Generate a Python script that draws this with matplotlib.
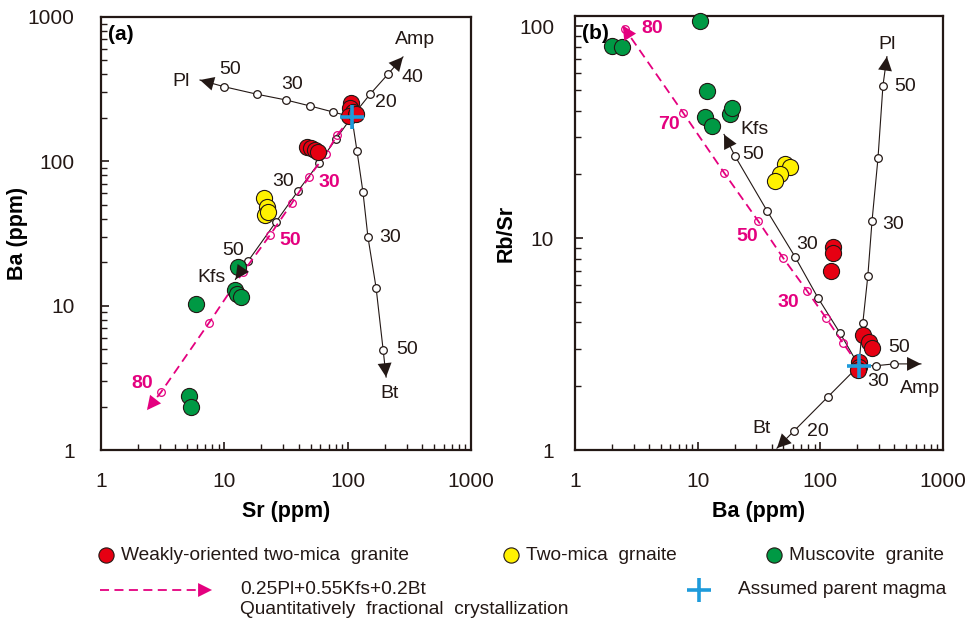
import matplotlib
matplotlib.use("Agg")
import matplotlib.pyplot as plt

plt.rcParams["font.family"] = ["Liberation Sans", "DejaVu Sans"]

# ---- datos ----
# (a) Sr vs Ba
sr_red = [106.6, 104.5, 110.6, 102.6, 117, 46.9, 50.5, 54.4, 57.5]
ba_red = [254, 234, 220, 206, 213, 126, 124, 120, 116]
sr_yellow = [21.0, 22.2, 21.4, 22.6]
ba_yellow = [55.7, 48.3, 42.5, 44.6]
sr_green = [12.9, 12.2, 12.7, 13.6, 5.9, 5.17, 5.37]
ba_green = [18.5, 12.8, 12.0, 11.5, 10.3, 2.37, 1.99]
parent_a = (108, 203)

vec_a = {
    "Pl": ([75.7, 49.5, 31.7, 18.3, 9.94], [220, 242, 266, 292, 329], (6.35, 366)),
    "Kfs": ([80.5, 58.6, 39.6, 26.2, 15.6], [143, 97.5, 62.4, 38, 20.4], (12.3, 15.2)),
    "Bt": ([119, 133, 146, 170, 194], [118, 61.4, 29.9, 13.3, 4.93], (205, 3.2)),
    "Amp": ([152, 213], [292, 403], (281, 529)),
}
fc_a_sr = [82, 66.8, 48.6, 35.4, 23.5, 14.2, 7.5, 3.07]
fc_a_ba = [152, 112.5, 78, 51.5, 30.9, 17.1, 7.59, 2.52]
fc_a_tip = (2.36, 1.89)

# (b) Ba vs Rb/Sr
ba_red_b = [126.7, 126.7, 122, 222, 249, 263, 206, 206, 202]
rbsr_red = [9.12, 8.54, 7.02, 3.5, 3.24, 3.04, 2.61, 2.47, 2.39]
ba_yellow_b = [51.5, 56.5, 46.9, 42.7]
rbsr_yellow = [22.3, 21.8, 20.0, 18.7]
ba_green_b = [10.4, 2.0, 2.42, 11.9, 11.5, 13.1, 18.3, 19.0]
rbsr_green = [105.6, 80.4, 79.6, 49.3, 37.5, 34.0, 38.4, 41.4]
parent_b = (206, 2.5)

vec_b = {
    "Pl": ([222, 244, 264, 295, 324], [3.98, 6.65, 12.1, 23.8, 52.6], (349, 72)),
    "Kfs": ([144.5, 95.6, 62.1, 36.7, 20.1], [3.57, 5.23, 8.18, 13.5, 24.5], (16.4, 30.9)),
    "Amp": ([284, 398], [2.5, 2.55], (661, 2.55)),
    "Bt": ([115, 61], [1.78, 1.23], (44.3, 1.02)),
}
fc_b_ba = [153, 111, 77.8, 49.6, 31, 16.4, 7.59, 2.56]
fc_b_rbsr = [3.2, 4.21, 5.65, 8.09, 12.1, 20.4, 39.2, 97]
fc_b_tip = (2.45, 101)

# etiquetas de los vectores: (texto, x, y)
labels_a = [("Pl", 4.45, 355), ("50", 11.1, 430), ("30", 35.4, 338),
            ("Amp", 352, 694), ("40", 333, 378), ("20", 205, 254),
            ("30", 29.9, 72), ("50", 11.8, 24.3), ("Kfs", 7.94, 15.6),
            ("30", 221, 29.9), ("50", 303, 5.0), ("Bt", 217, 2.48)]
labels_fc_a = [("30", 70.6, 70.8), ("50", 34.1, 28.1), ("80", 2.15, 2.91)]
labels_b = [("Pl", 349, 82.2), ("50", 489, 52), ("30", 391, 11.6),
            ("Kfs", 29.3, 32.6), ("50", 28.2, 24.8), ("30", 77.8, 9.31),
            ("50", 437, 3.04), ("30", 295, 2.10), ("Amp", 648, 1.96),
            ("20", 95.6, 1.22), ("Bt", 33.4, 1.26)]
labels_fc_b = [("80", 4.24, 97.9), ("70", 5.84, 34.4), ("50", 25.2, 10.2),
               ("30", 54.4, 4.95)]

RED = "#E60012"
YELLOW = "#FFF100"
GREEN = "#009944"
PINK = "#E4007F"
BLUE = "#1E9BDB"
INK = "#231815"
HEAD = "-|>,head_length=0.5,head_width=0.25"


def setup_axes(ax, ylim, xlabel, ylabel, ylab_x, ypad):
    ax.set_xscale("log")
    ax.set_yscale("log")
    ax.set_xlim(1, 1000)
    ax.set_ylim(*ylim)
    ax.set_xticks([1, 10, 100, 1000])
    ax.set_xticklabels(["1", "10", "100", "1000"])
    yt = [t for t in [1, 10, 100, 1000] if t <= ylim[1]]
    ax.set_yticks(yt)
    ax.set_yticklabels([str(t) for t in yt])
    ax.tick_params(which="both", direction="in", top=False, right=False,
                   labelsize=15, colors=INK)
    ax.tick_params(axis="x", which="major", length=6, width=1.2, pad=16)
    ax.tick_params(axis="y", which="major", length=6, width=1.2, pad=ypad)
    ax.tick_params(which="minor", length=4, width=1)
    for s in ax.spines.values():
        s.set_linewidth(1.6)
        s.set_color(INK)
    ax.set_xlabel(xlabel, fontsize=15.5, fontweight="bold")
    ax.set_ylabel(ylabel, fontsize=15.5, fontweight="bold")
    ax.xaxis.set_label_coords(0.5, -0.118)
    ax.yaxis.set_label_coords(ylab_x, 0.5)


def draw_vector(ax, parent, xs, ys, tip, color=INK, dashed=False):
    lx = [parent[0]] + xs + [tip[0]]
    ly = [parent[1]] + ys + [tip[1]]
    ls = (0, (5, 3)) if dashed else "-"
    lw = 1.3 if dashed else 0.8
    ax.plot(lx, ly, color=color, lw=lw, ls=ls, zorder=3)
    ax.plot(xs, ys, "o", ms=5.5, mec=color, mew=0.9,
            mfc="none" if dashed else "white", zorder=3)
    ax.annotate("", xy=tip, xytext=(xs[-1], ys[-1]),
                arrowprops=dict(arrowstyle=HEAD, color=color, lw=0.01,
                                mutation_scale=20, shrinkA=0, shrinkB=0),
                zorder=5)


def draw_points(ax, x, y, color):
    ax.scatter(x, y, s=135, c=color, edgecolors=INK, linewidths=0.8,
               zorder=4, clip_on=False)


fig = plt.figure(figsize=(9.71, 6.24), dpi=100)
ax1 = fig.add_axes([101 / 971, 174 / 624, 370 / 971, 433 / 624])
ax2 = fig.add_axes([575 / 971, 174 / 624, 368 / 971, 434 / 624])

# ---- panel (a) ----
setup_axes(ax1, (1, 1000), "Sr (ppm)", "Ba (ppm)", -0.197, 19)
for name, (xs, ys, tip) in vec_a.items():
    draw_vector(ax1, parent_a, xs, ys, tip)
draw_vector(ax1, parent_a, fc_a_sr, fc_a_ba, fc_a_tip, color=PINK, dashed=True)
draw_points(ax1, sr_green, ba_green, GREEN)
draw_points(ax1, sr_yellow, ba_yellow, YELLOW)
draw_points(ax1, sr_red, ba_red, RED)
ax1.plot(*parent_a, "+", ms=17, mew=2.6, color=BLUE, zorder=6)
for t, x, y in labels_a:
    ax1.text(x, y, t, fontsize=14, color=INK, ha="center", va="center", zorder=6)
for t, x, y in labels_fc_a:
    ax1.text(x, y, t, fontsize=14, color=PINK, fontweight="bold",
             ha="center", va="center", zorder=6)
ax1.text(0.02, 0.96, "(a)", transform=ax1.transAxes, fontsize=15,
         fontweight="bold", va="center", ha="left")

# ---- panel (b) ----
setup_axes(ax2, (1, 112), "Ba (ppm)", "Rb/Sr", -0.158, 15)
for name, (xs, ys, tip) in vec_b.items():
    draw_vector(ax2, parent_b, xs, ys, tip)
draw_vector(ax2, parent_b, fc_b_ba, fc_b_rbsr, fc_b_tip, color=PINK, dashed=True)
draw_points(ax2, ba_green_b, rbsr_green, GREEN)
draw_points(ax2, ba_yellow_b, rbsr_yellow, YELLOW)
draw_points(ax2, ba_red_b, rbsr_red, RED)
ax2.plot(*parent_b, "+", ms=17, mew=2.6, color=BLUE, zorder=6)
for t, x, y in labels_b:
    ax2.text(x, y, t, fontsize=14, color=INK, ha="center", va="center", zorder=6)
for t, x, y in labels_fc_b:
    ax2.text(x, y, t, fontsize=14, color=PINK, fontweight="bold",
             ha="center", va="center", zorder=6)
ax2.text(0.02, 0.96, "(b)", transform=ax2.transAxes, fontsize=15,
         fontweight="bold", va="center", ha="left")

# ---- leyenda (coordenadas en píxeles de la figura) ----
lg = fig.add_axes([0, 0, 1, 1], zorder=-1)
lg.set_xlim(0, 971)
lg.set_ylim(624, 0)
lg.axis("off")
for x, col, txt in [(106, RED, "Weakly-oriented two-mica  granite"),
                    (511, YELLOW, "Two-mica  grnaite"),
                    (774, GREEN, "Muscovite  granite")]:
    lg.scatter([x], [555], s=120, c=col, edgecolors=INK, linewidths=0.8)
    lg.text(x + 15, 555, txt, fontsize=13.8, va="center", ha="left", color=INK)
lg.plot([100, 200], [590, 590], color=PINK, lw=1.3, ls=(0, (5, 3)))
lg.annotate("", xy=(212, 590), xytext=(196, 590),
            arrowprops=dict(arrowstyle=HEAD, color=PINK, lw=0.01,
                            mutation_scale=20, shrinkA=0, shrinkB=0))
lg.text(240, 590, "0.25Pl+0.55Kfs+0.2Bt", fontsize=13.8, va="center", color=INK)
lg.text(240, 610, "Quantitatively  fractional  crystallization", fontsize=13.8,
        va="center", color=INK)
lg.plot([699], [590], "+", ms=17, mew=2.6, color=BLUE)
lg.text(738, 590, "Assumed parent magma", fontsize=13.8, va="center", color=INK)

fig.savefig("out.png", dpi=100)
